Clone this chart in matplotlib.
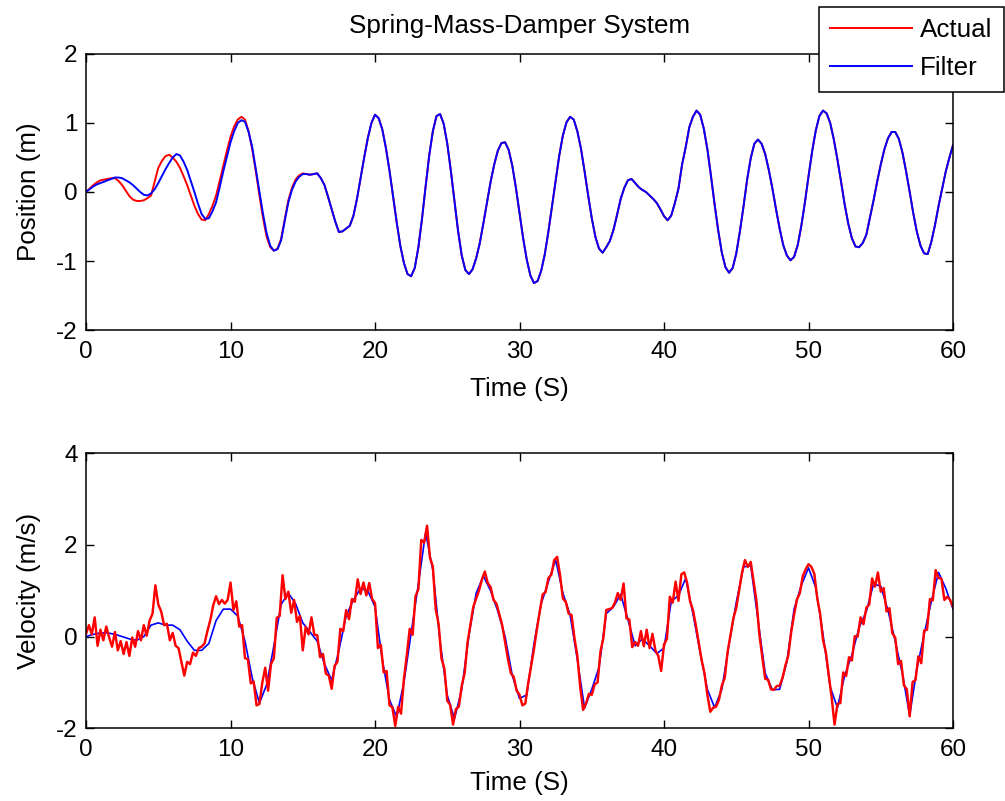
import numpy as np
import matplotlib
matplotlib.use("Agg")
import matplotlib.pyplot as plt

plt.rcParams['font.family'] = ['Liberation Sans', 'DejaVu Sans']
plt.rcParams['axes.unicode_minus'] = False

# ---- data ----------------------------------------------------------------
# position samples every 0.25 s, 0..60 s
pos_time = np.arange(0, 60.001, 0.25)
position_actual = [
    # 0 - 4.75 s
    0.00, 0.05, 0.10, 0.14, 0.17, 0.18, 0.19, 0.20, 0.20, 0.16,
    0.10, 0.02, -0.06, -0.11, -0.13, -0.13, -0.12, -0.09, -0.05, 0.15,
    # 5 - 9.75 s
    0.35, 0.45, 0.52, 0.54, 0.50, 0.44, 0.35, 0.23, 0.10, -0.05,
    -0.20, -0.32, -0.40, -0.41, -0.32, -0.20, -0.05, 0.16, 0.38, 0.60,
    # 10 - 14.75 s
    0.80, 0.95, 1.05, 1.09, 1.05, 0.88, 0.62, 0.30, -0.05, -0.38,
    -0.65, -0.80, -0.85, -0.82, -0.68, -0.40, -0.12, 0.06, 0.18, 0.24,
    # 15 - 19.75 s
    0.27, 0.26, 0.25, 0.26, 0.27, 0.20, 0.10, -0.07, -0.25, -0.43,
    -0.58, -0.57, -0.53, -0.49, -0.35, -0.10, 0.20, 0.50, 0.78, 1.00,
    # 20 - 24.75 s
    1.12, 1.07, 0.91, 0.64, 0.31, -0.07, -0.44, -0.78, -1.03, -1.19,
    -1.22, -1.10, -0.80, -0.39, 0.08, 0.53, 0.88, 1.10, 1.13, 0.99,
    # 25 - 29.75 s
    0.70, 0.30, -0.14, -0.57, -0.92, -1.13, -1.19, -1.12, -0.96, -0.74,
    -0.45, -0.15, 0.15, 0.40, 0.60, 0.71, 0.72, 0.61, 0.38, 0.06,
    # 30 - 34.75 s
    -0.30, -0.67, -0.98, -1.21, -1.32, -1.29, -1.14, -0.90, -0.57, -0.20,
    0.18, 0.53, 0.82, 1.01, 1.09, 1.05, 0.88, 0.63, 0.30, -0.05,
    # 35 - 39.75 s
    -0.38, -0.65, -0.82, -0.88, -0.80, -0.71, -0.55, -0.33, -0.10, 0.06,
    0.17, 0.19, 0.13, 0.07, 0.03, 0.00, -0.05, -0.10, -0.16, -0.25,
    # 40 - 44.75 s
    -0.35, -0.41, -0.34, -0.16, 0.05, 0.40, 0.65, 0.94, 1.09, 1.18,
    1.12, 0.92, 0.62, 0.23, -0.18, -0.56, -0.88, -1.09, -1.17, -1.10,
    # 45 - 49.75 s
    -0.89, -0.57, -0.21, 0.18, 0.49, 0.70, 0.76, 0.70, 0.55, 0.32,
    0.05, -0.25, -0.53, -0.77, -0.92, -0.99, -0.94, -0.77, -0.49, -0.15,
    # 50 - 54.75 s
    0.23, 0.59, 0.89, 1.10, 1.18, 1.14, 1.00, 0.76, 0.47, 0.15,
    -0.18, -0.46, -0.67, -0.79, -0.80, -0.74, -0.62, -0.37, -0.12, 0.15,
    # 55 - 60 s
    0.40, 0.62, 0.78, 0.87, 0.87, 0.77, 0.57, 0.30, 0.00, -0.31,
    -0.58, -0.78, -0.89, -0.90, -0.72, -0.48, -0.20, 0.05, 0.30, 0.50,
    0.68,
]
position_filter = [
    # 0 - 4.75 s
    0.00, 0.04, 0.08, 0.11, 0.13, 0.15, 0.17, 0.19, 0.21, 0.21,
    0.20, 0.17, 0.14, 0.10, 0.05, 0.00, -0.04, -0.05, -0.02, 0.04,
    # 5 - 9.75 s
    0.13, 0.23, 0.33, 0.42, 0.50, 0.55, 0.53, 0.44, 0.32, 0.16,
    0.00, -0.17, -0.32, -0.39, -0.38, -0.28, -0.15, 0.07, 0.30, 0.51,
    # 10 - 14.75 s
    0.72, 0.88, 1.00, 1.04, 1.02, 0.87, 0.65, 0.33, 0.00, -0.32,
    -0.60, -0.78, -0.85, -0.83, -0.70, -0.42, -0.15, 0.03, 0.15, 0.22,
    # 15 - 19.75 s
    0.26, 0.26, 0.25, 0.26, 0.27, 0.20, 0.10, -0.07, -0.25, -0.43,
    -0.58, -0.57, -0.53, -0.49, -0.35, -0.10, 0.20, 0.50, 0.78, 1.00,
    # 20 - 24.75 s
    1.12, 1.07, 0.91, 0.64, 0.31, -0.07, -0.44, -0.78, -1.03, -1.19,
    -1.22, -1.10, -0.80, -0.39, 0.08, 0.53, 0.88, 1.10, 1.13, 0.99,
    # 25 - 29.75 s
    0.70, 0.30, -0.14, -0.57, -0.92, -1.13, -1.19, -1.12, -0.96, -0.74,
    -0.45, -0.15, 0.15, 0.40, 0.60, 0.71, 0.72, 0.61, 0.38, 0.06,
    # 30 - 34.75 s
    -0.30, -0.67, -0.98, -1.21, -1.32, -1.29, -1.14, -0.90, -0.57, -0.20,
    0.18, 0.53, 0.82, 1.01, 1.09, 1.05, 0.88, 0.63, 0.30, -0.05,
    # 35 - 39.75 s
    -0.38, -0.65, -0.82, -0.88, -0.80, -0.71, -0.55, -0.33, -0.10, 0.06,
    0.17, 0.19, 0.13, 0.07, 0.03, 0.00, -0.05, -0.10, -0.16, -0.25,
    # 40 - 44.75 s
    -0.35, -0.41, -0.34, -0.16, 0.05, 0.40, 0.65, 0.94, 1.09, 1.18,
    1.12, 0.92, 0.62, 0.23, -0.18, -0.56, -0.88, -1.09, -1.17, -1.10,
    # 45 - 49.75 s
    -0.89, -0.57, -0.21, 0.18, 0.49, 0.70, 0.76, 0.70, 0.55, 0.32,
    0.05, -0.25, -0.53, -0.77, -0.92, -0.99, -0.94, -0.77, -0.49, -0.15,
    # 50 - 54.75 s
    0.23, 0.59, 0.89, 1.10, 1.18, 1.14, 1.00, 0.76, 0.47, 0.15,
    -0.18, -0.46, -0.67, -0.79, -0.80, -0.74, -0.62, -0.37, -0.12, 0.15,
    # 55 - 60 s
    0.40, 0.62, 0.78, 0.87, 0.87, 0.77, 0.57, 0.30, 0.00, -0.31,
    -0.58, -0.78, -0.89, -0.90, -0.72, -0.48, -0.20, 0.05, 0.30, 0.50,
    0.68,
]

# measured velocity every 0.2 s, 0..60 s
vel_time = np.arange(0, 60.001, 0.2)
velocity_actual = [
    0.06, 0.25, 0.05, 0.42, -0.20, 0.15, -0.08, 0.22, -0.02, -0.22,
    0.10, -0.30, -0.10, -0.38, -0.12, -0.42, -0.02, -0.22, 0.12, -0.08,
    0.25, 0.02, 0.35, 0.50, 1.12, 0.70, 0.55, 0.25, 0.28, -0.08,
    0.08, -0.20, -0.25, -0.55, -0.85, -0.55, -0.60, -0.35, -0.42, -0.25,
    -0.22, -0.15, 0.12, 0.36, 0.68, 0.88, 0.71, 0.80, 0.72, 0.80,
    1.18, 0.58, 0.77, 0.22, 0.25, -0.47, -0.49, -1.02, -0.98, -1.50,
    -1.47, -1.00, -0.68, -1.18, -0.60, -0.47, 0.41, 0.45, 1.34, 0.82,
    0.98, 0.52, 0.80, 0.32, 0.45, -0.30, 0.21, 0.05, 0.42, 0.04,
    0.03, -0.45, -0.38, -0.81, -0.85, -1.14, -0.64, -0.55, 0.17, 0.12,
    0.58, 0.38, 0.82, 0.76, 1.25, 0.93, 1.18, 0.90, 1.17, 0.82,
    0.73, -0.25, -0.18, -0.78, -0.75, -1.50, -1.54, -1.95, -1.53, -1.68,
    -0.92, -0.40, 0.17, 0.04, 0.88, 1.03, 2.11, 2.05, 2.42, 1.72,
    1.53, 0.60, 0.27, -0.48, -0.70, -1.40, -1.49, -1.92, -1.58, -1.53,
    -1.07, -0.80, -0.13, 0.26, 0.65, 0.83, 1.01, 1.25, 1.42, 1.17,
    1.08, 0.80, 0.72, 0.49, 0.25, -0.12, -0.49, -0.80, -0.88, -1.18,
    -1.27, -1.50, -1.46, -1.01, -0.65, -0.27, 0.16, 0.55, 0.92, 0.97,
    1.28, 1.35, 1.67, 1.74, 1.35, 0.83, 0.76, 0.50, 0.47, -0.03,
    -0.42, -1.10, -1.60, -1.46, -1.25, -1.27, -1.04, -1.00, -0.33, -0.03,
    0.58, 0.60, 0.62, 0.74, 0.95, 0.80, 1.16, 0.40, 0.37, -0.23,
    -0.12, -0.20, 0.12, -0.21, 0.15, -0.25, 0.06, -0.30, -0.42, -0.75,
    -0.17, -0.05, 0.87, 0.74, 1.20, 0.78, 1.36, 1.40, 1.17, 0.77,
    0.58, 0.25, -0.13, -0.51, -0.80, -1.27, -1.64, -1.55, -1.53, -1.38,
    -1.07, -0.90, -0.33, 0.04, 0.40, 0.63, 1.01, 1.40, 1.67, 1.52,
    1.63, 1.20, 0.77, 0.04, -0.45, -0.92, -0.94, -1.15, -1.16, -1.08,
    -1.07, -0.90, -0.63, -0.41, 0.10, 0.48, 0.81, 0.95, 1.32, 1.47,
    1.58, 1.52, 1.37, 0.84, 0.50, -0.07, -0.34, -0.85, -1.33, -1.92,
    -1.47, -1.45, -0.78, -0.86, -0.45, -0.52, 0.01, 0.00, 0.42, 0.27,
    0.63, 0.70, 1.27, 1.09, 1.40, 0.98, 1.06, 0.55, 0.62, 0.07,
    -0.02, -0.60, -0.53, -1.06, -1.15, -1.74, -0.99, -0.95, -0.43, -0.58,
    0.13, 0.15, 0.82, 0.79, 1.45, 1.28, 1.26, 0.80, 0.87, 0.80,
    0.65,
]

# filtered velocity every 0.5 s, 0..60 s
filt_time = np.arange(0, 60.001, 0.5)
velocity_filter = [
    0.00, 0.05, 0.08, 0.08, 0.05, 0.00, -0.05, -0.08, 0.00, 0.25,
    0.30, 0.25, 0.25, 0.15, -0.10, -0.30, -0.30, -0.15, 0.35, 0.60,
    0.60, 0.45, -0.10, -0.90, -1.45, -1.05, -0.20, 0.70, 0.95, 0.72,
    0.30, 0.10, -0.10, -0.60, -0.95, -0.30, 0.45, 0.80, 1.05, 1.00,
    0.65, -0.50, -1.38, -1.75, -1.00, 0.08, 1.15, 2.27, 1.45, -0.10,
    -1.28, -1.79, -1.15, 0.03, 0.95, 1.32, 1.00, 0.55, 0.00, -0.85,
    -1.35, -1.27, -0.15, 0.72, 1.20, 1.67, 0.95, 0.47, -0.50, -1.56,
    -1.15, -0.67, 0.50, 0.65, 0.92, 0.37, -0.20, -0.05, -0.20, -0.37,
    -0.25, 0.77, 0.90, 1.27, 0.50, -0.35, -1.15, -1.55, -1.15, -0.17,
    0.75, 1.52, 1.55, 0.37, -0.80, -1.16, -1.15, -0.55, 0.60, 1.12,
    1.50, 1.07, 0.05, -1.10, -1.55, -0.85, -0.40, 0.20, 0.55, 1.15,
    1.10, 0.57, -0.10, -0.82, -1.72, -0.70, 0.05, 0.77, 1.40, 1.05,
    0.60,
]

x_ticks = [0, 10, 20, 30, 40, 50, 60]
pos_ticks = [-2, -1, 0, 1, 2]
vel_ticks = [-2, 0, 2, 4]

# ---- figure --------------------------------------------------------------
FS_TEXT = 18.7
FS_TICK = 17.5
fig = plt.figure(figsize=(10.05, 8.01), dpi=100)
ax1 = fig.add_axes([0.0856, 0.588, 0.8627, 0.3446])
ax2 = fig.add_axes([0.0856, 0.0908, 0.8627, 0.3433])

l_act, = ax1.plot(pos_time, position_actual, color='#ff0000', lw=1.4, label='Actual')
l_fil, = ax1.plot(pos_time, position_filter, color='#0000ff', lw=1.4, label='Filter')

ax2.plot(filt_time, velocity_filter, color='#0000ff', lw=1.2)
ax2.plot(vel_time, velocity_actual, color='#ff0000', lw=1.75)

for ax, yl, yt, ylab in [(ax1, (-2, 2), pos_ticks, 'Position (m)'),
                         (ax2, (-2, 4), vel_ticks, 'Velocity (m/s)')]:
    ax.set_xlim(0, 60)
    ax.set_ylim(*yl)
    ax.set_xticks(x_ticks)
    ax.set_yticks(yt)
    ax.tick_params(direction='in', length=6, width=1, top=True, right=True,
                   labelsize=FS_TICK, colors='black')
    ax.tick_params(axis='x', pad=8)
    ax.tick_params(axis='y', pad=6)
    for s in ax.spines.values():
        s.set_linewidth(1.1)
        s.set_color('black')
    ax.set_xlabel('Time (S)', fontsize=FS_TEXT)
    ax.set_ylabel(ylab, fontsize=FS_TEXT)
    ax.yaxis.set_label_coords(-0.052, 0.5)

ax1.xaxis.set_label_coords(0.5, -0.17)
ax2.xaxis.set_label_coords(0.5, -0.157)

ax1.set_title('Spring-Mass-Damper System', fontsize=FS_TEXT, pad=15)

fig.legend(handles=[l_act, l_fil], loc='upper right',
           bbox_to_anchor=(1004 / 1005, 1 - 7 / 801), borderaxespad=0,
           fontsize=FS_TEXT, fancybox=False, framealpha=1, edgecolor='black',
           borderpad=0.44, labelspacing=0.53, handlelength=3.15,
           handletextpad=0.31)
fig.legends[0].get_frame().set_linewidth(1.1)

fig.savefig('out.png', dpi=100, facecolor='white')
